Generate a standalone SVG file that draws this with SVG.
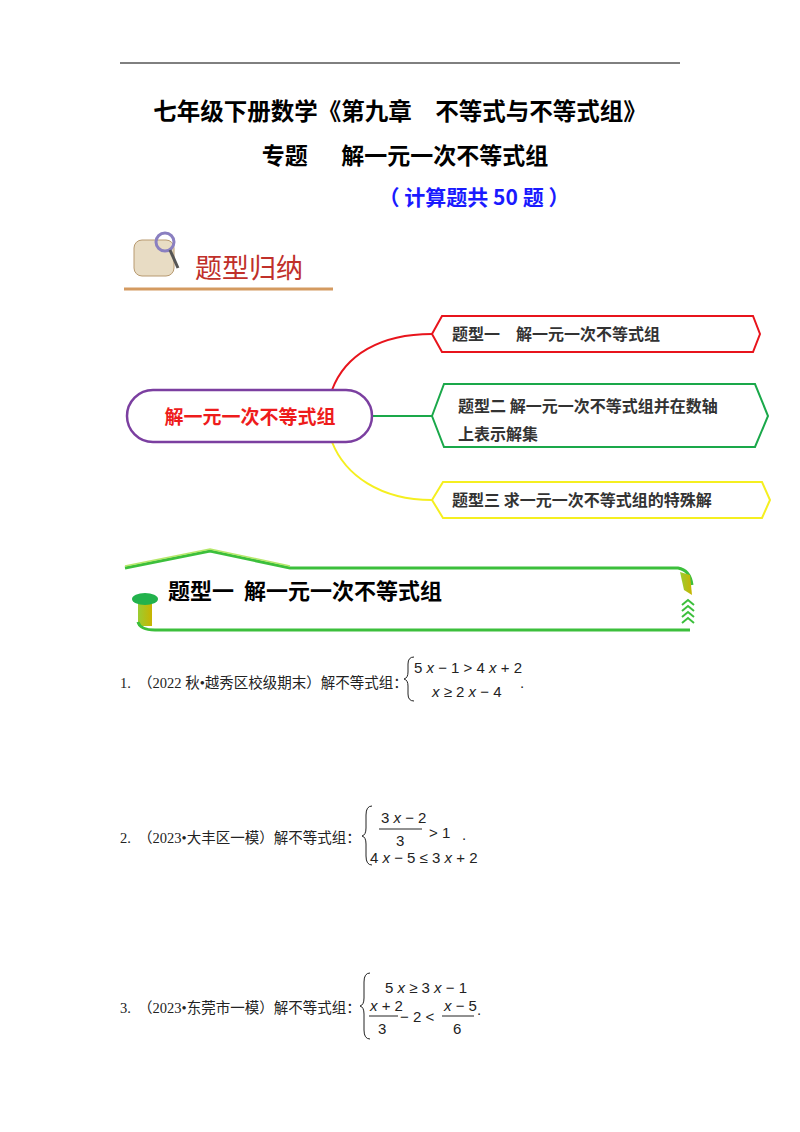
<svg xmlns="http://www.w3.org/2000/svg" width="800" height="1132" viewBox="0 0 800 1132">
<defs>
<style>
.t{font-family:"Noto Sans CJK SC","Liberation Sans",sans-serif;font-weight:bold;fill:#000}
.n{font-family:"Noto Sans CJK SC","Liberation Sans",sans-serif;font-weight:bold;font-size:16px;fill:#333}
.p{font-family:"Liberation Serif","Noto Sans CJK SC",serif;font-size:14.5px;fill:#222}
.m{font-family:"Liberation Sans","DejaVu Sans",sans-serif;font-size:15px;fill:#222}
.i{font-style:italic}
.br{fill:none;stroke:#222;stroke-width:1}
</style>
<linearGradient id="yg" x1="0" y1="0" x2="1" y2="0"><stop offset="0" stop-color="#9acd32"/><stop offset="1" stop-color="#c8b400"/></linearGradient>
</defs>
<rect width="800" height="1132" fill="#fff"/>
<line x1="120" y1="63" x2="680" y2="63" stroke="#000" stroke-width="1"/>
<text class="t" x="400" y="120" font-size="23.5" text-anchor="middle">七年级下册数学《第九章　不等式与不等式组》</text>
<text class="t" x="405" y="164" font-size="23" text-anchor="middle" xml:space="preserve">专题　  解一元一次不等式组</text>
<text class="t" x="474" y="205" font-size="21" text-anchor="middle" style="fill:#1a1aff" xml:space="preserve">（ 计算题共 50 题 ）</text>
<g id="header">
<rect x="134" y="240" width="40" height="36" rx="8" fill="#e8dcc4" stroke="#b89a70"/>
<circle cx="165" cy="242" r="9" fill="none" stroke="#8a7fc0" stroke-width="3"/>
<line x1="170" y1="250" x2="178" y2="268" stroke="#555" stroke-width="3"/>
<text x="195" y="278" font-family="'Noto Sans CJK SC',sans-serif" font-size="27" fill="#c0302a">题型归纳</text>
<line x1="124" y1="289" x2="333" y2="289" stroke="#d49a60" stroke-width="3"/>
</g>
<g id="connectors" fill="none" stroke-width="2">
<path d="M332,390 C345,355 380,334 432,334" stroke="#e8141c"/>
<path d="M372,416 L432,416" stroke="#1aa84a"/>
<path d="M332,442 C345,475 380,500 432,500" stroke="#f5ef20"/>
</g>
<g id="center">
<rect x="127" y="390" width="245" height="52" rx="26" fill="#fff" stroke="#7b3fa0" stroke-width="2.5"/>
<text class="t" x="250" y="424" font-size="19" text-anchor="middle" style="fill:#ee1c1c">解一元一次不等式组</text>
</g>
<g id="type1">
<polygon points="432,334 442,316 753,316 760,334 753,352 442,352" fill="#fff" stroke="#e8141c" stroke-width="2"/>
<text class="n" x="452" y="340" xml:space="preserve">题型一　解一元一次不等式组</text>
</g>
<g id="type2">
<polygon points="432,416 444,384 755,384 768,416 755,447 444,447" fill="#fff" stroke="#1aa84a" stroke-width="2"/>
<text class="n" x="458" y="412">题型二  解一元一次不等式组并在数轴</text>
<text class="n" x="458" y="440">上表示解集</text>
</g>
<g id="type3">
<polygon points="432,500 443,482 762,482 770,500 762,518 443,518" fill="#fff" stroke="#f5ef20" stroke-width="2"/>
<text class="n" x="452" y="506">题型三  求一元一次不等式组的特殊解</text>
</g>
<g id="banner">
<path d="M125,568 L210,551 L290,568 L678,568 Q690,570 692,585" fill="none" stroke="#3cbf3c" stroke-width="3"/>
<path d="M125,566 L210,549 L290,566" fill="none" stroke="#b6e86a" stroke-width="1.5"/>
<path d="M680,572 L690,575 L692,595 L684,590 Z" fill="url(#yg)"/>
<rect x="138" y="601" width="14" height="25" fill="url(#yg)"/>
<path d="M138,622 Q140,630 155,630 L690,630" fill="none" stroke="#3cbf3c" stroke-width="3"/>
<ellipse cx="145" cy="599" rx="13" ry="6" fill="#22b24c"/>
<path d="M682,605 l6,-5 l6,5 M682,611 l6,-5 l6,5 M682,617 l6,-5 l6,5 M682,623 l6,-5 l6,5" fill="none" stroke="#3cbf3c" stroke-width="2"/>
<text class="t" x="168" y="599" font-size="22" xml:space="preserve">题型一  解一元一次不等式组</text>
</g>
<g id="q1">
<text class="p" x="120" y="688">1.　（2022 秋•越秀区校级期末）解不等式组：</text>
<path class="br" d="M414,657 Q408,657 408,664 L408,672 Q408,678 404,679 Q408,680 408,686 L408,694 Q408,701 414,701"/>
<text class="m" x="414" y="673" font-size="14">5 <tspan class="i">x</tspan> − 1 &gt; 4 <tspan class="i">x</tspan> + 2</text>
<text class="m" x="432" y="697" font-size="14"><tspan class="i">x</tspan> ≥ 2 <tspan class="i">x</tspan> − 4</text>
<text class="m" x="520" y="688">.</text>
</g>
<g id="q2">
<text class="p" x="120" y="843">2.　（2023•大丰区一模）解不等式组：</text>
<path class="br" d="M372,806 Q366,806 366,815 L366,828 Q366,835 362,836 Q366,837 366,844 L366,856 Q366,865 372,865"/>
<text class="m" x="381" y="823">3 <tspan class="i">x</tspan> − 2</text>
<line x1="379" y1="829" x2="422" y2="829" stroke="#222"/>
<text class="m" x="396" y="846">3</text>
<text class="m" x="429" y="838">&gt; 1</text>
<text class="m" x="370" y="863">4 <tspan class="i">x</tspan> − 5 ≤ 3 <tspan class="i">x</tspan> + 2</text>
<text class="m" x="462" y="840">.</text>
</g>
<g id="q3">
<text class="p" x="120" y="1013">3.　（2023•东莞市一模）解不等式组：</text>
<path class="br" d="M370,973 Q364,973 364,982 L364,998 Q364,1005 360,1006 Q364,1007 364,1014 L364,1030 Q364,1039 370,1039"/>
<text class="m" x="385" y="993">5 <tspan class="i">x</tspan> ≥ 3 <tspan class="i">x</tspan> − 1</text>
<text class="m" x="370" y="1011"><tspan class="i">x</tspan> + 2</text>
<line x1="369" y1="1016" x2="398" y2="1016" stroke="#222"/>
<text class="m" x="378" y="1034">3</text>
<text class="m" x="400" y="1022">− 2 &lt;</text>
<text class="m" x="444" y="1011"><tspan class="i">x</tspan> − 5</text>
<line x1="442" y1="1016" x2="474" y2="1016" stroke="#222"/>
<text class="m" x="453" y="1034">6</text>
<text class="m" x="477" y="1015">.</text>
</g>
</svg>
